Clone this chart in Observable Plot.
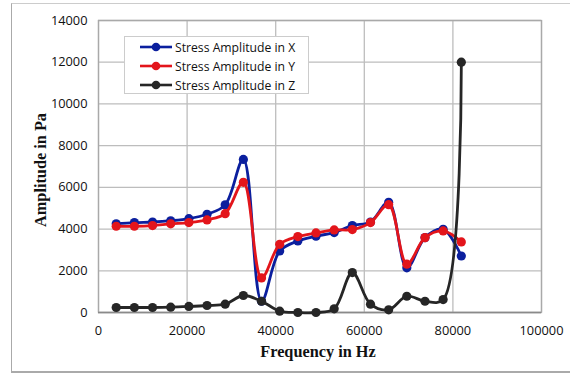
<!DOCTYPE html>
<html>
<head>
<meta charset="utf-8">
<script src="https://cdn.jsdelivr.net/npm/d3@7"></script>
<script src="https://cdn.jsdelivr.net/npm/@observablehq/plot@0.6"></script>
<style>
  html, body { margin: 0; padding: 0; background: #fff; }
  #wrap { position: relative; width: 570px; height: 374px; overflow: hidden; }
  #border {
    position: absolute; left: 11px; top: 3px; width: 570px; height: 367px;
    border-left: 1.5px solid #aaa; border-top: 1.5px solid #ccc; border-bottom: 2px solid #aaa;
  }
  .axis-title { position: absolute; font-family: "Liberation Serif", serif; font-weight: bold; font-size: 16.3px; color: #111; white-space: nowrap; }
  #xtitle { left: 0; width: 636px; top: 342px; text-align: center; }
  #ytitle { left: 41px; top: 170px; transform: translate(-50%, -50%) rotate(-90deg); }
  #legend {
    position: absolute; left: 124px; top: 36px; width: 185px; height: 58px;
    background: #fff; border: 1px solid #ccc; box-sizing: border-box;
    font-family: "Open Sans", sans-serif; font-size: 12.2px; color: #111;
  }
  .row { position: absolute; left: 14px; height: 18px; display: flex; align-items: center; }
  .row svg { margin-right: 2px; }
</style>
</head>
<body>
<div id="wrap">
  <div id="border"></div>
  <div id="chart"></div>
  <div id="legend"></div>
  <div class="axis-title" id="xtitle">Frequency in Hz</div>
  <div class="axis-title" id="ytitle">Amplitude in Pa</div>
</div>
<script>
// Excitation frequencies (Hz)
const frequency = [4000, 8100, 12200, 16300, 20400, 24500, 28600, 32700, 36800, 40900,
                   45000, 49100, 53200, 57300, 61400, 65500, 69600, 73700, 77800, 81900];

// Stress amplitude per direction (Pa)
const stressX = [4250, 4310, 4340, 4400, 4500, 4710, 5160, 7340, 540, 2950,
                 3430, 3660, 3830, 4170, 4340, 5280, 2140, 3590, 3990, 2710];
const stressY = [4135, 4135, 4170, 4250, 4310, 4440, 4740, 6240, 1660, 3270,
                 3640, 3815, 3960, 3975, 4310, 5170, 2315, 3590, 3910, 3385];
const stressZ = [240, 240, 240, 255, 290, 335, 400, 815, 540, 65,
                 0, 0, 175, 1915, 400, 130, 780, 540, 620, 12000];

const seriesNames = ["Stress Amplitude in X", "Stress Amplitude in Y", "Stress Amplitude in Z"];
const seriesColors = ["#0b1f9e", "#e3151b", "#262626"];

const xTicks = [0, 20000, 40000, 60000, 80000, 100000];
const yTicks = [0, 2000, 4000, 6000, 8000, 10000, 12000, 14000];

const seriesValues = [stressX, stressY, stressZ];
const data = seriesValues.flatMap((vals, s) =>
  vals.map((v, i) => ({series: seriesNames[s], f: frequency[i], amp: v})));

const lineMarks = seriesNames.flatMap((name, s) => {
  const rows = data.filter(d => d.series === name);
  return [
    Plot.line(rows, {x: "f", y: "amp", stroke: seriesColors[s], strokeWidth: 2.8, curve: "catmull-rom"}),
    Plot.dot(rows, {x: "f", y: "amp", r: 4.6, fill: seriesColors[s], stroke: "none"})
  ];
});

const chart = Plot.plot({
  width: 570,
  height: 374,
  marginLeft: 98,
  marginRight: 29,
  marginTop: 20,
  marginBottom: 62,
  style: {fontFamily: "'Open Sans', sans-serif", fontSize: "12.8px", color: "#111", background: "transparent"},
  x: {domain: [0, 100000], ticks: xTicks, tickFormat: "d", label: null},
  y: {domain: [0, 14000], ticks: yTicks, tickFormat: "d", label: null},
  marks: [
    Plot.gridX(xTicks, {stroke: "#bdbdbd", strokeOpacity: 1, strokeWidth: 1.3}),
    Plot.gridY(yTicks, {stroke: "#bdbdbd", strokeOpacity: 1, strokeWidth: 1.3}),
    Plot.frame({stroke: "#a9a9a9", strokeWidth: 1.3}),
    Plot.ruleY([0], {stroke: "#8a8a8a", strokeWidth: 1.6}),
    Plot.axisX({ticks: xTicks, tickSize: 0, tickPadding: 13, tickFormat: "d", label: null}),
    Plot.axisY({ticks: yTicks, tickSize: 0, tickPadding: 11, tickFormat: "d", label: null}),
    ...lineMarks
  ]
});
document.getElementById("chart").appendChild(chart);

// Legend box with line-and-marker swatches
const legend = document.getElementById("legend");
seriesNames.forEach((name, s) => {
  const row = document.createElement("div");
  row.className = "row";
  row.style.top = (1 + s * 19) + "px";
  row.innerHTML =
    `<svg width="34" height="10"><line x1="1" y1="5" x2="33" y2="5" stroke="${seriesColors[s]}" stroke-width="2.6"/>` +
    `<circle cx="17" cy="5" r="4.3" fill="${seriesColors[s]}"/></svg><span>${name}</span>`;
  legend.appendChild(row);
});
</script>
</body>
</html>
